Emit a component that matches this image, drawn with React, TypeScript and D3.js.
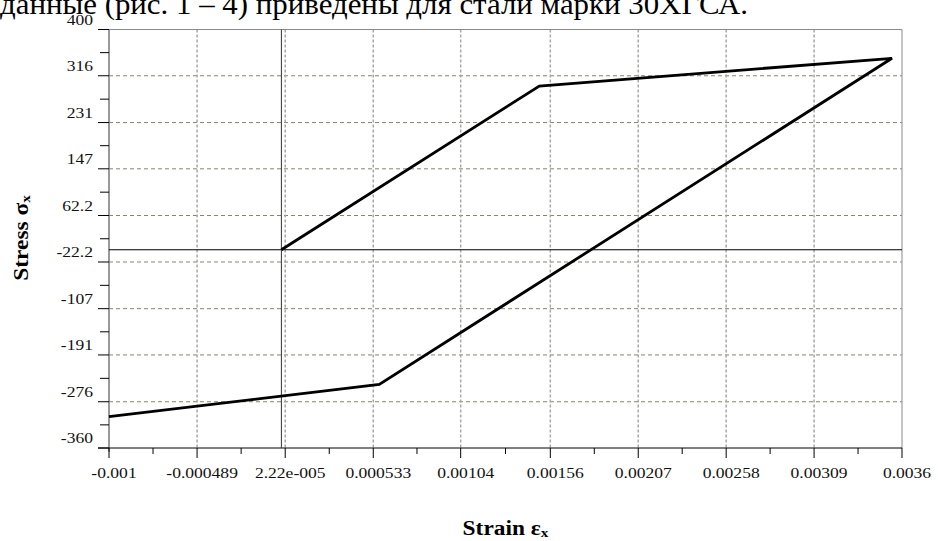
import React from "react";
import * as d3 from "d3";

const strain = [0, 0.001496, 0.003542, 0.000568, -0.001];
const stress = [0, 297.4, 347.7, -244.4, -303];

const xTicks = [-0.001, -0.000489, 0.0000222, 0.000533, 0.00104, 0.00156, 0.00207, 0.00258, 0.00309, 0.0036];
const xTickLabels = ["-0.001", "-0.000489", "2.22e-005", "0.000533", "0.00104", "0.00156", "0.00207", "0.00258", "0.00309", "0.0036"];
const yTicks = [400, 316, 231, 147, 62.2, -22.2, -107, -191, -276, -360];
const yTickLabels = ["400", "316", "231", "147", "62.2", "-22.2", "-107", "-191", "-276", "-360"];

const topText = "данные (рис. 1 – 4) приведены для стали марки 30ХГСА.";

const W = 938, H = 541;
const L = 109, R = 902, T = 29.5, B = 448;
const SX = 1.17;
const FONT = "'Liberation Serif', 'Times New Roman', serif";

export default function App() {
  const x = d3.scaleLinear().domain([-0.001, 0.0036]).range([L, R]);
  const y = d3.scaleLinear().domain([-360, 400]).range([B, T]);
  const pts: [number, number][] = strain.map((s, i) => [s, stress[i]]);
  const line = d3.line<[number, number]>().x(d => x(d[0])).y(d => y(d[1]));

  const xMinor = xTicks.slice(1).map((v, i) => (x(v) + x(xTicks[i])) / 2);
  const yMinor = yTicks.slice(1).map((v, i) => (y(v) + y(yTicks[i])) / 2);

  return (
    <svg width={W} height={H} style={{ position: "absolute", left: 0, top: 0, background: "#fff" }} fontFamily={FONT}>
      <rect x={0} y={0} width={W} height={H} fill="#fff" />
      <text x={0} y={14} fontSize={30} fill="#000" textLength={748} lengthAdjust="spacingAndGlyphs">{topText}</text>

      {/* horizontal dashed grid */}
      {yTicks.slice(1, -1).map((v, i) => (
        <line key={"hg" + i} x1={L} x2={R} y1={y(v)} y2={y(v)} stroke="#85856f" strokeWidth={1} strokeDasharray="4,3" />
      ))}
      {/* vertical dashed grid */}
      {xTicks.slice(1, -1).map((v, i) => (
        <line key={"vg" + i} x1={x(v)} x2={x(v)} y1={T} y2={B} stroke="#a8a8a8" strokeWidth={1.5} strokeDasharray="3,2" />
      ))}

      {/* frame */}
      <line x1={L} x2={R} y1={T} y2={T} stroke="#8a8a8a" strokeWidth={1} />
      <line x1={R} x2={R} y1={T} y2={B} stroke="#8a8a8a" strokeWidth={1} />
      <line x1={L} x2={L} y1={T} y2={B + 4} stroke="#777" strokeWidth={1.5} />
      <line x1={L - 11} x2={R} y1={B} y2={B} stroke="#000" strokeWidth={1} />

      {/* zero lines */}
      <line x1={L} x2={R} y1={y(0)} y2={y(0)} stroke="#000" strokeWidth={1} />
      <line x1={x(0)} x2={x(0)} y1={T} y2={B} stroke="#333" strokeWidth={1} />

      {/* y ticks */}
      {yTicks.map((v, i) => (
        <line key={"yt" + i} x1={L - 11} x2={L} y1={y(v)} y2={y(v)} stroke="#000" strokeWidth={1} />
      ))}
      {yMinor.map((p, i) => (
        <line key={"ym" + i} x1={L - 9} x2={L} y1={p} y2={p} stroke="#000" strokeWidth={1} />
      ))}
      {yTicks.map((v, i) => (
        <text key={"yl" + i} transform={`translate(93,${y(v) - 5}) scale(${SX},1)`} textAnchor="end" fontSize={15} fill="#111">
          {yTickLabels[i]}
        </text>
      ))}

      {/* x ticks */}
      {xTicks.map((v, i) => (
        <line key={"xt" + i} x1={x(v)} x2={x(v)} y1={B} y2={B + 10} stroke="#000" strokeWidth={1} />
      ))}
      {xMinor.map((p, i) => (
        <line key={"xm" + i} x1={p} x2={p} y1={B} y2={B + 6} stroke="#000" strokeWidth={1} />
      ))}
      {xTicks.map((v, i) => (
        <text key={"xl" + i} transform={`translate(${x(v) + 5},478) scale(${SX},1)`} textAnchor="middle" fontSize={15} fill="#111">
          {xTickLabels[i]}
        </text>
      ))}

      {/* curve */}
      <path d={line(pts) || ""} fill="none" stroke="#000" strokeWidth={2.8} strokeLinejoin="miter" />

      {/* axis titles */}
      <text transform={`translate(${(L + R) / 2},535) scale(${SX},1)`} textAnchor="middle" fontSize={20} fontWeight="bold" fill="#000">
        Strain ε<tspan fontSize={13} dy={2}>x</tspan>
      </text>
      <text transform={`translate(28,238) rotate(-90) scale(${SX},1)`} textAnchor="middle" fontSize={20} fontWeight="bold" fill="#000">
        Stress σ<tspan fontSize={13} dy={2}>x</tspan>
      </text>
    </svg>
  );
}
